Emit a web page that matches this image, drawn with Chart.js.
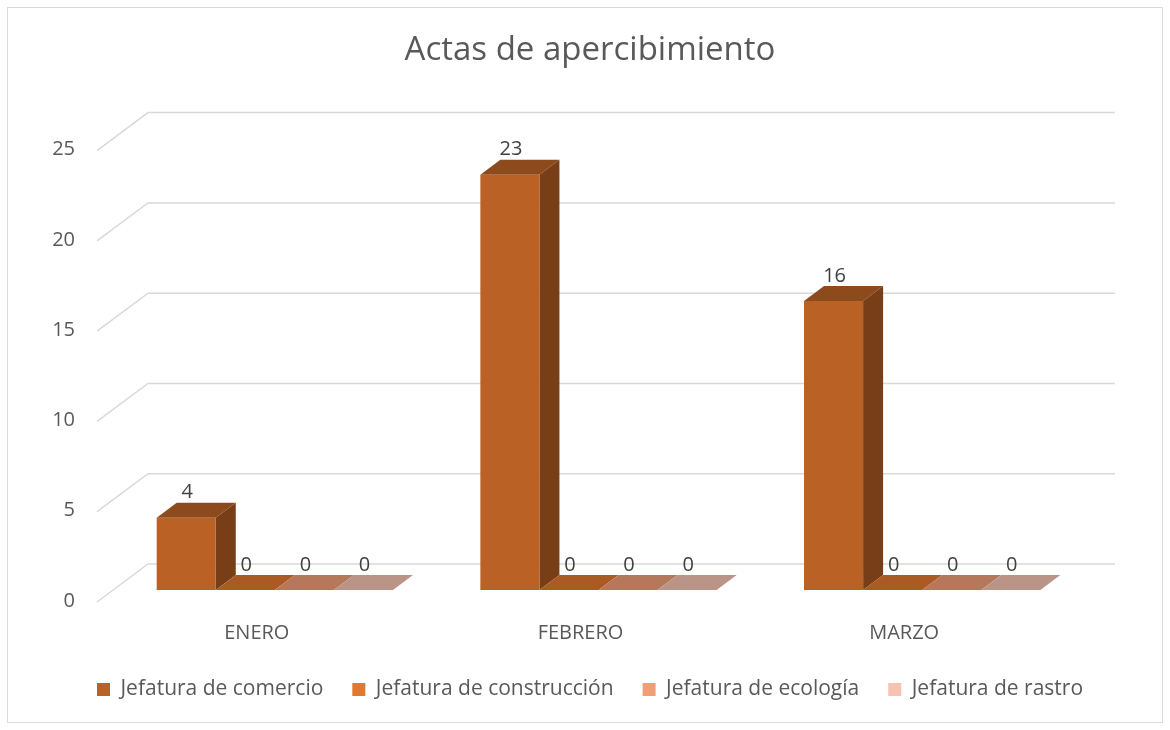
<!DOCTYPE html>
<html>
<head>
<meta charset="utf-8">
<script src="https://cdn.jsdelivr.net/npm/chart.js@4/dist/chart.umd.min.js"></script>
<style>
  html, body { margin: 0; padding: 0; background: #fff; }
  #wrap { width: 1170px; height: 730px; }
</style>
</head>
<body>
<div id="wrap"><canvas id="chart" width="1170" height="730"></canvas></div>
<script>
"use strict";

var months = ["ENERO", "FEBRERO", "MARZO"];
var seriesNames = ["Jefatura de comercio", "Jefatura de construcción", "Jefatura de ecología", "Jefatura de rastro"];
var comercio = [4, 23, 16];
var construccion = [0, 0, 0];
var ecologia = [0, 0, 0];
var rastro = [0, 0, 0];
var yTicks = [0, 5, 10, 15, 20, 25];

var colors = ["#BA6125", "#E0782F", "#F09E76", "#F6C3B3"];
var gridColor = "#D9D9D9";
var textColor = "#595959";
var FONT = "'Open Sans', 'DejaVu Sans', sans-serif";

// depth of the bars (3D look)
var BAR_DX = 20, BAR_DY = 15;

function shade(hex, f) {
  var n = parseInt(hex.slice(1), 16);
  var r = Math.round(((n >> 16) & 255) * f);
  var g = Math.round(((n >> 8) & 255) * f);
  var b = Math.round((n & 255) * f);
  return "rgb(" + r + "," + g + "," + b + ")";
}

var frame = {
  id: "frame",
  beforeDraw: function(chart) {
    var ctx = chart.ctx;
    ctx.save();
    ctx.fillStyle = "#fff";
    ctx.fillRect(0, 0, chart.width, chart.height);
    ctx.strokeStyle = "#D9D9D9";
    ctx.lineWidth = 1;
    ctx.strokeRect(7.5, 7.5, chart.width - 15, chart.height - 15);
    ctx.restore();
  }
};

var grid3d = {
  id: "grid3d",
  beforeDatasetsDraw: function(chart) {
    var ctx = chart.ctx;
    var area = chart.chartArea;
    var y = chart.scales.y;
    ctx.save();
    ctx.strokeStyle = gridColor;
    ctx.lineWidth = 1.5;
    yTicks.forEach(function(v) {
      var py = y.getPixelForValue(v);
      ctx.beginPath();
      ctx.moveTo(area.left - 16, py + 12);
      ctx.lineTo(area.left + 35, py - 26);
      ctx.lineTo(area.right + 31, py - 26);
      ctx.stroke();
    });

    // top and side faces of every bar, before the front faces
    chart.data.datasets.forEach(function(ds, i) {
      var meta = chart.getDatasetMeta(i);
      meta.data.forEach(function(bar) {
        var l = bar.x - bar.width / 2, r = bar.x + bar.width / 2;
        var t = bar.y, b = bar.base;
        ctx.fillStyle = shade(ds.backgroundColor, 0.76);
        ctx.beginPath();
        ctx.moveTo(l, t);
        ctx.lineTo(l + BAR_DX, t - BAR_DY);
        ctx.lineTo(r + BAR_DX, t - BAR_DY);
        ctx.lineTo(r, t);
        ctx.closePath();
        ctx.fill();
        if (b - t > 0.5) {
          ctx.fillStyle = shade(ds.backgroundColor, 0.64);
          ctx.beginPath();
          ctx.moveTo(r, t);
          ctx.lineTo(r + BAR_DX, t - BAR_DY);
          ctx.lineTo(r + BAR_DX, b - BAR_DY);
          ctx.lineTo(r, b);
          ctx.closePath();
          ctx.fill();
        }
      });
    });
    ctx.restore();
  },
  afterDatasetsDraw: function(chart) {
    var ctx = chart.ctx;
    ctx.save();
    ctx.fillStyle = "#404040";
    ctx.font = "20px " + FONT;
    ctx.textAlign = "center";
    ctx.textBaseline = "middle";
    chart.data.datasets.forEach(function(ds, i) {
      var meta = chart.getDatasetMeta(i);
      meta.data.forEach(function(bar, j) {
        ctx.fillText(String(ds.data[j]), bar.x + 1, bar.y - 25);
      });
    });
    ctx.restore();
  }
};

var seriesData = [comercio, construccion, ecologia, rastro];

new Chart(document.getElementById("chart"), {
  type: "bar",
  data: {
    labels: months,
    datasets: seriesData.map(function(d, i) {
      return {
        label: seriesNames[i],
        data: d,
        backgroundColor: colors[i],
        borderWidth: 0,
        barPercentage: 1,
        categoryPercentage: 0.73
      };
    })
  },
  plugins: [frame, grid3d],
  options: {
    responsive: false,
    animation: false,
    layout: { padding: { left: 20, right: 10, top: 30, bottom: 20 } },
    plugins: {
      title: {
        display: true,
        text: "Actas de apercibimiento",
        color: textColor,
        font: { family: FONT, size: 33, weight: "normal" },
        padding: { top: 1, bottom: 68 }
      },
      legend: {
        position: "bottom",
        labels: {
          color: textColor,
          font: { family: FONT, size: 21 },
          boxWidth: 13,
          boxHeight: 13,
          padding: 29
        }
      },
      tooltip: { enabled: false }
    },
    scales: {
      x: {
        grid: { display: false },
        border: { display: false },
        afterFit: function(axis) { axis.height = 60; },
        ticks: {
          color: textColor,
          font: { family: FONT, size: 20 },
          padding: 23,
          labelOffset: -18
        }
      },
      y: {
        min: 0,
        max: 25,
        grid: { display: false },
        border: { display: false },
        afterFit: function(axis) { axis.width = 93; },
        afterBuildTicks: function(axis) {
          axis.ticks = yTicks.map(function(v) { return { value: v }; });
        },
        ticks: {
          color: textColor,
          font: { family: FONT, size: 20 },
          padding: 30,
          labelOffset: 11
        }
      },
      // empty right-hand axis, only keeps room for the 3D depth of the back wall
      yRight: {
        position: "right",
        min: 0,
        max: 25,
        grid: { display: false },
        border: { display: false },
        ticks: { display: false },
        afterFit: function(axis) { axis.width = 76; }
      }
    }
  }
});
</script>
</body>
</html>
